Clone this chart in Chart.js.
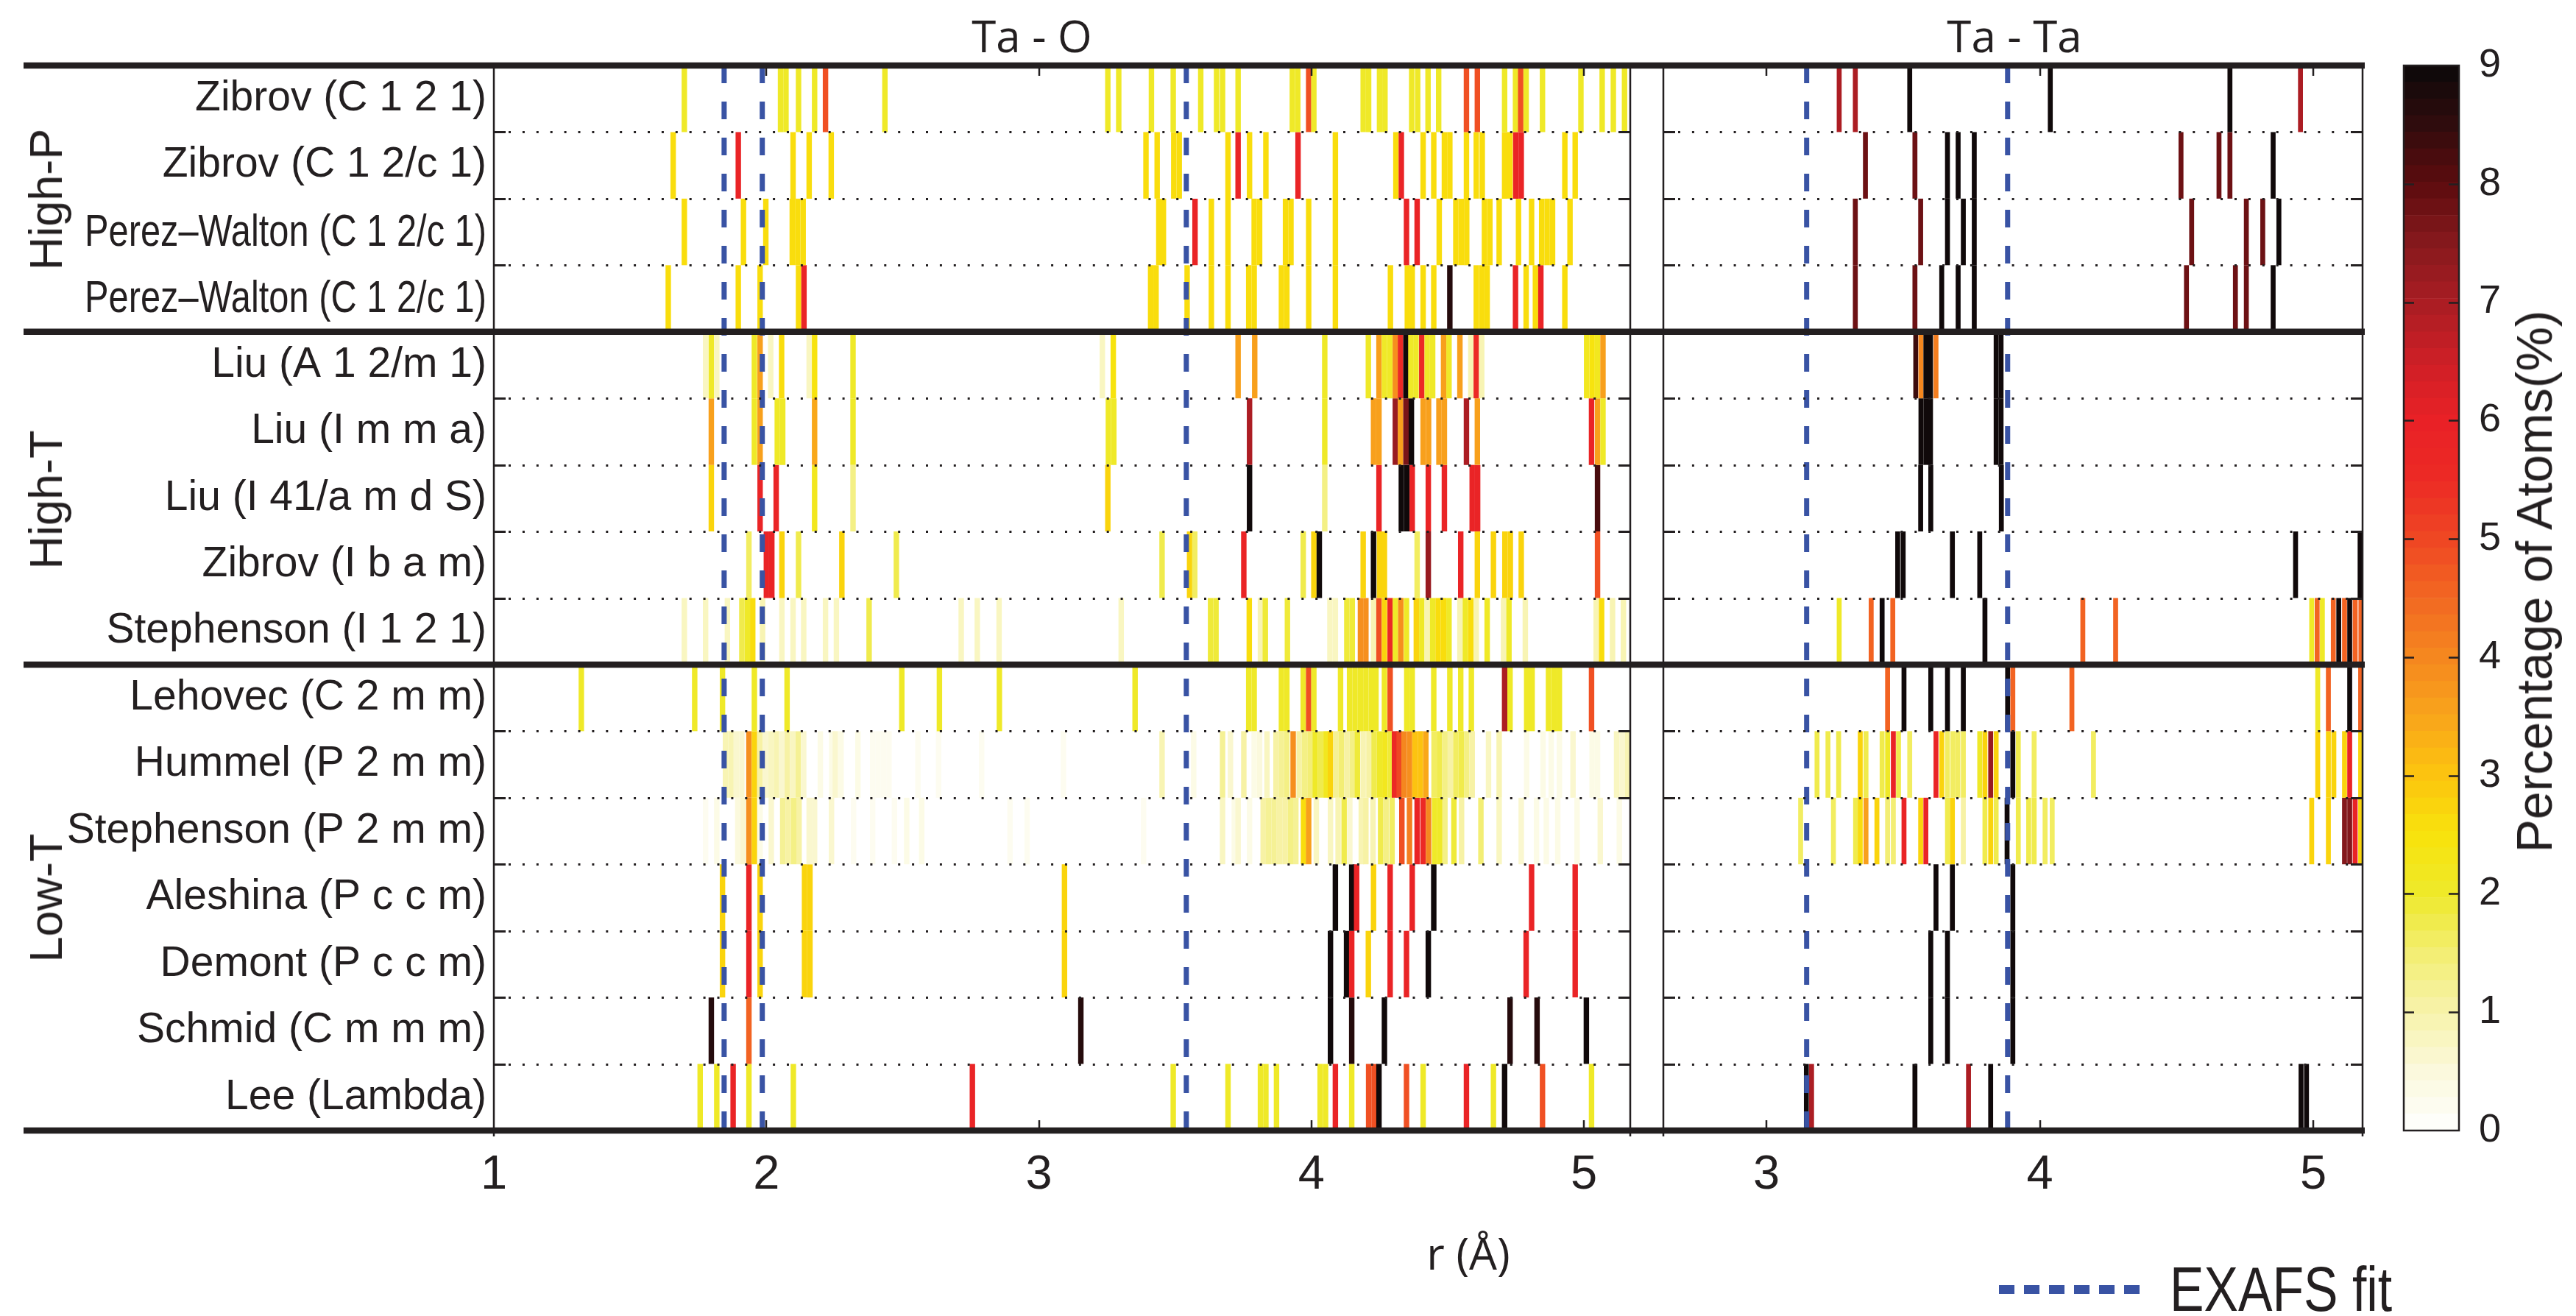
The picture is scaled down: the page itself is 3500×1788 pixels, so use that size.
<!DOCTYPE html>
<html>
<head>
<meta charset="utf-8">
<script src="https://cdn.jsdelivr.net/npm/chart.js@4.4.1/dist/chart.umd.min.js"></script>
<style>
  html, body { margin: 0; padding: 0; background: #fff; }
  #wrap { position: relative; width: 3500px; height: 1788px; overflow: hidden; background: #fff; }
  canvas { position: absolute; top: 0; }
  .lbl { position: absolute; white-space: nowrap; color: #231f20; line-height: 1; }
</style>
</head>
<body>
<div id="wrap">
  <canvas id="cTaO" width="2238" height="1788" style="left:0px"></canvas>
  <canvas id="cTaTa" width="1000" height="1788" style="left:2238px"></canvas>
  <canvas id="cBar" width="262" height="1788" style="left:3238px"></canvas>

  <div class="lbl" style="left:1402px;top:48px;transform:translate(-50%,-50%);font:60px 'Open Sans';">Ta - O</div>
  <div class="lbl" style="left:2737px;top:48px;transform:translate(-50%,-50%);font:60px 'Open Sans';">Ta - Ta</div>
  <div class="lbl" style="left:1995px;top:1702px;transform:translate(-50%,-50%);font:60px 'Open Sans';">r (Å)</div>

  <div class="lbl" style="left:62px;top:271px;transform:translate(-50%,-50%) rotate(-90deg);font:63px 'Liberation Sans';">High-P</div>
  <div class="lbl" style="left:62px;top:679px;transform:translate(-50%,-50%) rotate(-90deg);font:63px 'Liberation Sans';">High-T</div>
  <div class="lbl" style="left:62px;top:1220px;transform:translate(-50%,-50%) rotate(-90deg);font:63px 'Liberation Sans';">Low-T</div>

  <div class="lbl" style="left:3443px;top:790px;transform:translate(-50%,-50%) rotate(-90deg);font:68px 'Liberation Sans';">Percentage of Atoms(%)</div>

  <svg style="position:absolute;left:2716px;top:1740px" width="200" height="24">
    <line x1="0" y1="12" x2="191" y2="12" stroke="#3953a4" stroke-width="12" stroke-dasharray="21 13"/>
  </svg>
  <div class="lbl" style="left:2948px;top:1752px;transform-origin:0 50%;transform:translateY(-50%) scaleX(0.82);font:85px 'Liberation Sans';">EXAFS fit</div>
</div>

<script>
// ---- rows (top to bottom) ----
const rowLabels = [
  'Zibrov (C 1 2 1)', 'Zibrov (C 1 2/c 1)', 'Perez–Walton (C 1 2/c 1)', 'Perez–Walton (C 1 2/c 1)',
  'Liu (A 1 2/m 1)', 'Liu (I m m a)', 'Liu (I 41/a m d S)', 'Zibrov (I b a m)', 'Stephenson (I 1 2 1)',
  'Lehovec (C 2 m m)', 'Hummel (P 2 m m)', 'Stephenson (P 2 m m)', 'Aleshina (P c c m)',
  'Demont (P c c m)', 'Schmid (C m m m)', 'Lee (Lambda)'
];
const groupNames = ['High-P', 'High-T', 'Low-T'];
const groupSizes = [4, 5, 7];

// EXAFS fitted distances (Å)
const exafsTaO = [1.845, 1.985, 3.541];
const exafsTaTa = [3.147, 3.882];

// axis ticks
const ticksTaO = [1, 2, 3, 4, 5];
const ticksTaTa = [3, 4, 5];
const colorbarTicks = [0, 1, 2, 3, 4, 5, 6, 7, 8, 9];

// ---- Ta-O histograms: [r (Å), percentage of atoms] ----
const taO_ZibrovC121 = [[1.699,2.0],[2.052,2.1],[2.072,2.1],[2.118,2.0],[2.177,2.0],[2.217,4.8],[2.435,2.0],[3.253,2.0],[3.293,2.0],[3.413,2.0],[3.493,2.0],[3.594,2.0],[3.652,2.0],[3.674,2.0],[3.731,2.0],[3.930,2.0],[3.950,2.0],[3.990,4.8],[4.009,2.0],[4.190,2.0],[4.210,2.0],[4.250,2.0],[4.270,2.0],[4.368,2.0],[4.390,2.0],[4.428,2.0],[4.467,2.0],[4.569,4.8],[4.609,4.8],[4.709,2.0],[4.749,2.0],[4.768,4.8],[4.788,2.0],[4.848,2.0],[4.989,2.0],[5.067,2.0],[5.108,2.0],[5.149,2.0]];
const taO_ZibrovC12c1 = [[1.658,2.6],[1.897,5.8],[2.098,2.6],[2.157,2.6],[2.238,2.6],[3.393,2.6],[3.434,2.6],[3.495,2.6],[3.515,2.6],[3.694,2.6],[3.731,5.8],[3.773,2.6],[3.833,2.6],[3.951,5.8],[4.088,2.6],[4.310,2.6],[4.330,5.8],[4.410,2.6],[4.449,2.6],[4.488,2.6],[4.508,2.6],[4.569,2.6],[4.605,2.6],[4.627,2.6],[4.709,2.6],[4.729,2.6],[4.750,5.8],[4.770,5.8],[4.930,2.6],[4.968,2.6]];
const taO_PerezWaltonA = [[1.699,2.6],[1.916,2.6],[1.998,2.6],[2.095,2.6],[2.115,2.6],[2.135,2.6],[3.440,2.6],[3.457,2.6],[3.573,5.8],[3.633,2.6],[3.694,2.6],[3.790,2.6],[3.810,2.6],[3.905,2.6],[3.925,2.6],[3.990,2.6],[4.088,2.6],[4.349,5.8],[4.388,5.8],[4.469,2.6],[4.530,2.6],[4.550,2.6],[4.570,2.6],[4.635,2.6],[4.655,2.6],[4.689,2.6],[4.760,2.6],[4.808,2.6],[4.845,2.6],[4.865,2.6],[4.885,2.6],[4.949,2.6]];
const taO_PerezWaltonB = [[1.640,2.6],[1.897,2.6],[1.977,2.6],[2.118,2.6],[2.138,5.8],[3.410,2.6],[3.430,2.6],[3.544,2.6],[3.633,2.6],[3.694,2.6],[3.770,2.6],[3.790,2.6],[3.890,2.6],[3.910,2.6],[3.990,2.6],[4.088,2.6],[4.290,2.6],[4.352,2.6],[4.370,2.6],[4.410,2.6],[4.449,2.6],[4.508,8.6],[4.605,2.6],[4.625,2.6],[4.645,2.6],[4.749,5.8],[4.788,2.6],[4.822,2.6],[4.842,5.8],[4.930,2.6]];
const taO_LiuA12m1 = [[1.777,0.8],[1.798,2.0],[1.818,0.8],[1.956,2.0],[1.977,3.6],[2.016,0.8],[2.056,2.6],[2.157,0.8],[2.177,2.5],[2.318,2.0],[3.233,0.8],[3.273,2.4],[3.731,3.6],[3.792,3.6],[4.049,2.0],[4.209,2.0],[4.248,3.6],[4.268,2.0],[4.288,2.0],[4.308,3.8],[4.327,5.6],[4.347,9.0],[4.365,2.0],[4.384,2.0],[4.405,5.6],[4.425,2.0],[4.445,2.0],[4.485,3.6],[4.505,2.0],[4.545,3.6],[4.585,0.9],[4.605,5.6],[4.625,0.9],[5.010,2.2],[5.030,2.4],[5.050,2.2],[5.070,3.6]];
const taO_LiuImma = [[1.798,3.6],[1.956,2.0],[1.977,3.6],[2.040,2.0],[2.060,2.0],[2.177,3.4],[2.318,2.0],[3.255,2.0],[3.275,2.0],[3.773,7.0],[4.049,2.0],[4.228,3.6],[4.248,3.6],[4.308,7.2],[4.327,3.6],[4.347,7.6],[4.367,9.0],[4.410,3.6],[4.430,3.6],[4.468,3.6],[4.488,3.6],[4.569,7.0],[4.609,3.6],[5.028,5.8],[5.050,3.6],[5.070,2.0]];
const taO_LiuI41amdS = [[1.798,2.7],[1.977,5.8],[2.036,5.8],[2.177,2.2],[2.318,1.3],[3.253,2.7],[3.773,9.0],[4.049,1.3],[4.248,5.8],[4.330,9.0],[4.350,9.0],[4.370,5.8],[4.429,5.8],[4.488,5.8],[4.590,5.8],[4.610,5.8],[5.050,8.2]];
const taO_ZibrovIbam = [[1.936,1.6],[2.000,5.8],[2.020,5.8],[2.057,2.8],[2.118,1.8],[2.277,2.8],[2.477,1.8],[3.452,1.8],[3.553,2.8],[3.572,1.6],[3.752,5.8],[3.970,1.8],[4.009,2.8],[4.029,9.0],[4.190,2.8],[4.228,9.0],[4.250,2.8],[4.268,2.8],[4.388,1.6],[4.429,7.2],[4.548,5.8],[4.609,2.8],[4.668,2.8],[4.710,2.8],[4.730,2.8],[4.770,2.8],[5.050,4.8]];
const taO_StephensonI121 = [[1.699,0.8],[1.777,0.8],[1.857,0.8],[1.910,1.8],[1.930,2.0],[1.950,2.6],[1.986,0.9],[2.057,0.8],[2.098,0.8],[2.137,0.8],[2.217,0.8],[2.257,0.8],[2.377,1.8],[2.715,0.8],[2.774,0.8],[2.854,0.8],[3.302,0.8],[3.630,1.9],[3.650,1.9],[3.772,2.6],[3.813,0.9],[3.831,1.9],[3.912,1.9],[4.068,0.8],[4.088,0.8],[4.130,1.9],[4.150,1.9],[4.180,3.8],[4.200,3.8],[4.228,0.9],[4.248,4.8],[4.268,2.7],[4.289,5.6],[4.308,2.0],[4.328,3.8],[4.349,2.0],[4.385,2.7],[4.405,2.0],[4.425,0.9],[4.445,2.0],[4.465,2.6],[4.485,2.6],[4.505,2.0],[4.545,0.9],[4.565,2.0],[4.585,2.6],[4.605,0.9],[4.645,2.0],[4.705,0.9],[4.725,2.0],[4.785,0.9],[5.045,0.9],[5.065,2.6],[5.105,0.9],[5.145,0.9]];
const taO_LehovecC2mm = [[1.321,2.0],[1.737,2.0],[1.839,2.0],[1.956,2.0],[2.076,2.0],[2.497,2.0],[2.635,2.0],[2.855,2.0],[3.353,2.0],[3.770,2.0],[3.790,2.0],[3.890,2.0],[3.910,2.0],[3.970,2.0],[3.990,4.8],[4.009,2.0],[4.107,2.0],[4.140,2.0],[4.160,2.0],[4.180,2.0],[4.200,2.0],[4.220,2.0],[4.237,2.0],[4.268,2.0],[4.289,4.8],[4.350,2.0],[4.370,2.0],[4.449,2.0],[4.508,2.0],[4.548,2.0],[4.587,2.0],[4.709,7.0],[4.729,2.0],[4.790,2.0],[4.810,2.0],[4.870,2.0],[4.890,2.0],[4.910,2.0],[5.028,4.8]];
const taO_HummelP2mm = [[1.850,0.9],[1.870,0.9],[1.890,0.7],[1.910,0.6],[1.936,3.8],[1.956,2.7],[1.977,1.0],[1.997,0.6],[2.017,0.8],[2.037,0.9],[2.057,0.7],[2.077,1.0],[2.097,0.8],[2.117,1.2],[2.137,0.7],[2.198,0.3],[2.240,0.4],[2.253,0.6],[2.274,0.3],[2.336,0.4],[2.390,0.2],[2.410,0.2],[2.430,0.2],[2.450,0.2],[2.556,0.2],[2.632,0.2],[2.790,0.2],[3.090,0.2],[3.452,0.9],[3.568,0.3],[3.674,1.2],[3.703,0.6],[3.752,1.0],[3.790,0.4],[3.810,0.5],[3.837,0.8],[3.870,1.0],[3.890,1.2],[3.910,1.4],[3.933,3.8],[3.955,1.1],[3.975,1.3],[3.995,1.5],[4.014,2.0],[4.034,1.8],[4.054,2.2],[4.070,2.7],[4.090,1.2],[4.110,1.5],[4.130,1.0],[4.150,1.3],[4.169,1.9],[4.190,0.9],[4.211,1.0],[4.230,1.8],[4.250,2.0],[4.270,2.2],[4.290,1.9],[4.305,5.6],[4.322,5.0],[4.340,4.0],[4.360,3.8],[4.380,3.0],[4.400,3.0],[4.420,3.4],[4.450,1.6],[4.470,1.8],[4.490,1.3],[4.510,1.1],[4.530,1.6],[4.550,1.8],[4.570,1.4],[4.590,1.0],[4.650,0.8],[4.689,0.9],[4.790,0.3],[4.850,0.3],[4.880,0.3],[4.910,0.4],[4.960,0.7],[5.030,0.3],[5.050,0.3],[5.120,0.8],[5.140,0.7],[5.160,0.9]];
const taO_StephensonP2mm = [[1.777,0.2],[1.818,0.3],[1.895,0.5],[1.915,0.6],[1.936,3.8],[1.956,2.7],[1.977,0.3],[2.018,0.6],[2.060,1.2],[2.080,1.0],[2.100,1.3],[2.120,1.1],[2.157,0.7],[2.177,0.7],[2.239,0.6],[2.320,0.2],[2.390,0.2],[2.470,0.2],[2.515,0.3],[2.570,0.3],[2.894,0.2],[2.957,0.2],[3.384,0.2],[3.674,0.8],[3.717,0.4],[3.731,0.7],[3.773,0.4],[3.823,1.1],[3.843,1.2],[3.863,1.2],[3.883,1.1],[3.903,1.0],[3.923,1.3],[3.943,1.2],[3.971,2.6],[3.990,3.6],[4.018,0.8],[4.070,0.8],[4.098,0.9],[4.120,1.8],[4.141,0.7],[4.183,0.9],[4.200,1.0],[4.226,0.9],[4.254,1.7],[4.274,1.4],[4.296,1.6],[4.332,4.8],[4.360,4.2],[4.388,5.8],[4.410,5.6],[4.430,4.0],[4.452,2.0],[4.472,2.0],[4.490,1.3],[4.523,1.9],[4.551,1.0],[4.622,1.5],[4.689,0.8],[4.770,0.7],[4.826,0.3],[4.862,0.3],[4.904,0.3],[4.975,0.3],[5.060,0.6],[5.130,0.3]];
const taO_AleshinaPccm = [[1.839,2.8],[1.936,5.8],[1.977,2.8],[2.140,2.8],[2.160,2.8],[3.094,2.8],[4.088,9.0],[4.148,9.0],[4.166,5.8],[4.228,2.8],[4.289,5.8],[4.370,5.8],[4.449,9.0],[4.808,5.8],[4.968,5.8]];
const taO_DemontPccm = [[1.839,2.8],[1.936,5.8],[1.977,2.8],[2.140,2.8],[2.160,2.8],[3.094,2.8],[4.070,9.0],[4.129,9.0],[4.148,5.8],[4.209,2.8],[4.289,5.8],[4.349,5.8],[4.429,9.0],[4.788,5.8],[4.968,5.8]];
const taO_SchmidCmmm = [[1.798,8.7],[1.936,4.5],[3.154,8.7],[4.070,9.0],[4.148,8.7],[4.268,9.0],[4.729,8.7],[4.828,8.7],[5.009,9.0]];
const taO_LeeLambda = [[1.757,2.0],[1.818,2.0],[1.878,5.8],[1.936,2.0],[2.099,2.0],[2.756,5.8],[3.493,2.0],[3.694,2.0],[3.813,2.0],[3.833,2.0],[3.872,2.0],[4.032,2.0],[4.052,2.0],[4.088,5.8],[4.148,2.0],[4.210,4.8],[4.230,4.8],[4.248,9.0],[4.349,4.8],[4.410,2.0],[4.569,5.8],[4.668,2.0],[4.709,9.0],[4.848,4.8],[5.028,2.0]];

// ---- Ta-Ta histograms: [r (Å), percentage of atoms] ----
const taTa_ZibrovC121 = [[3.266,7.0],[3.325,7.0],[3.524,8.9],[4.038,8.9],[4.695,8.9],[4.953,7.0]];
const taTa_ZibrovC12c1 = [[3.362,7.8],[3.543,7.8],[3.662,8.9],[3.701,8.9],[3.760,8.9],[4.516,7.8],[4.655,7.8],[4.695,7.8],[4.853,8.9]];
const taTa_PerezWaltonA = [[3.325,7.8],[3.564,7.8],[3.662,8.9],[3.720,8.9],[3.760,8.9],[4.555,7.8],[4.755,7.8],[4.815,7.8],[4.874,8.9]];
const taTa_PerezWaltonB = [[3.325,7.8],[3.543,7.8],[3.641,8.9],[3.701,8.9],[3.760,8.9],[4.536,7.8],[4.715,7.8],[4.755,7.8],[4.853,8.9]];
const taTa_LiuA12m1 = [[3.546,8.4],[3.565,4.0],[3.583,9.0],[3.600,9.0],[3.620,4.2],[3.840,9.0],[3.858,9.0]];
const taTa_LiuImma = [[3.565,9.0],[3.583,9.0],[3.600,9.0],[3.840,9.0],[3.858,9.0]];
const taTa_LiuI41amdS = [[3.564,9.0],[3.601,9.0],[3.859,9.0]];
const taTa_ZibrovIbam = [[3.480,9.0],[3.500,9.0],[3.680,9.0],[3.780,9.0],[4.935,9.0],[5.171,9.0]];
const taTa_StephensonI121 = [[3.266,2.0],[3.383,4.6],[3.423,9.0],[3.462,4.6],[3.799,9.0],[4.157,4.6],[4.277,4.6],[4.994,2.0],[5.014,4.6],[5.033,2.0],[5.073,4.6],[5.093,9.0],[5.114,4.6],[5.133,9.0],[5.153,4.6],[5.174,4.6]];
const taTa_LehovecC2mm = [[3.443,4.6],[3.503,9.0],[3.601,9.0],[3.662,9.0],[3.720,9.0],[3.882,9.0],[3.901,4.6],[4.117,4.6],[5.016,2.0],[5.055,4.6],[5.133,9.0],[5.173,4.6]];
const taTa_HummelP2mm = [[3.185,1.8],[3.225,1.8],[3.264,1.8],[3.343,2.8],[3.364,1.8],[3.423,1.8],[3.443,2.0],[3.464,5.8],[3.483,1.8],[3.524,1.6],[3.620,5.8],[3.641,2.8],[3.662,1.6],[3.682,1.6],[3.700,1.6],[3.720,1.6],[3.780,2.0],[3.799,2.8],[3.820,7.2],[3.840,2.8],[3.901,9.0],[3.921,1.8],[3.979,1.6],[4.196,1.6],[5.016,2.8],[5.055,2.8],[5.075,2.8],[5.114,2.8],[5.133,5.8],[5.173,2.8]];
const taTa_StephensonP2mm = [[3.125,1.6],[3.245,1.6],[3.326,1.8],[3.343,2.6],[3.364,3.6],[3.404,2.8],[3.443,1.5],[3.464,1.5],[3.503,5.8],[3.564,2.8],[3.583,5.8],[3.662,1.8],[3.680,2.8],[3.720,1.0],[3.799,1.8],[3.820,2.8],[3.840,1.8],[3.880,9.0],[3.921,1.8],[3.959,1.8],[3.979,1.8],[4.019,1.6],[4.045,1.6],[4.994,2.8],[5.055,2.8],[5.114,7.5],[5.133,7.5],[5.153,5.8],[5.173,2.8]];
const taTa_AleshinaPccm = [[3.620,9.0],[3.680,9.0],[3.901,9.0]];
const taTa_DemontPccm = [[3.601,9.0],[3.662,9.0],[3.901,9.0]];
const taTa_SchmidCmmm = [[3.601,9.0],[3.662,9.0],[3.901,9.0]];
const taTa_LeeLambda = [[3.146,9.0],[3.165,7.0],[3.543,9.0],[3.739,7.0],[3.820,9.0],[4.955,9.0],[4.975,9.0]];

const taORows = [taO_ZibrovC121, taO_ZibrovC12c1, taO_PerezWaltonA, taO_PerezWaltonB, taO_LiuA12m1, taO_LiuImma, taO_LiuI41amdS, taO_ZibrovIbam, taO_StephensonI121, taO_LehovecC2mm, taO_HummelP2mm, taO_StephensonP2mm, taO_AleshinaPccm, taO_DemontPccm, taO_SchmidCmmm, taO_LeeLambda];
const taTaRows = [taTa_ZibrovC121, taTa_ZibrovC12c1, taTa_PerezWaltonA, taTa_PerezWaltonB, taTa_LiuA12m1, taTa_LiuImma, taTa_LiuI41amdS, taTa_ZibrovIbam, taTa_StephensonI121, taTa_LehovecC2mm, taTa_HummelP2mm, taTa_StephensonP2mm, taTa_AleshinaPccm, taTa_DemontPccm, taTa_SchmidCmmm, taTa_LeeLambda];

// ---- colour map (percentage -> colour), 64 discrete levels ----
const cmapStops = [[0,'#ffffff'],[0.5,'#fbf9dc'],[1,'#f7f3ab'],[1.5,'#f3ee72'],[2,'#eee92a'],[2.5,'#f8e30c'],[3,'#fcc40f'],[3.5,'#f9a51b'],[4,'#f5871f'],[4.5,'#f26822'],[5,'#ef4623'],[5.5,'#ec2a25'],[6,'#e92126'],[6.5,'#cd1f26'],[7,'#a91d23'],[7.5,'#86191d'],[8,'#5d0c0e'],[8.5,'#300c0d'],[9,'#0b0909']];
const CMAP_MAX = 9;
const CMAP_LEVELS = 64;

function hexRgb(h) { return [1, 3, 5].map(i => parseInt(h.slice(i, i + 2), 16)); }
function cmap(v) {
  v = Math.max(0, Math.min(CMAP_MAX, v));
  for (let i = 1; i < cmapStops.length; i++) {
    if (v <= cmapStops[i][0]) {
      const [v0, c0] = cmapStops[i - 1], [v1, c1] = cmapStops[i];
      const t = (v - v0) / (v1 - v0);
      const a = hexRgb(c0), b = hexRgb(c1);
      return 'rgb(' + a.map((x, k) => Math.round(x + (b[k] - x) * t)).join(',') + ')';
    }
  }
  return cmapStops[cmapStops.length - 1][1];
}
function levelColor(p) {
  const k = Math.min(CMAP_LEVELS - 1, Math.floor(p / CMAP_MAX * CMAP_LEVELS));
  return cmap((k + 0.5) * CMAP_MAX / CMAP_LEVELS);
}

// ---- shared drawing helpers ----
const INK = '#231f20';
const Y_MIN = -0.5, Y_MAX = rowLabels.length - 0.5;
const groupBreaks = groupSizes.slice(0, -1).map((_, i) => groupSizes.slice(0, i + 1).reduce((a, b) => a + b, 0));
// long labels are set in a horizontally compressed face
const condensedRow = rowLabels.map(l => l.length > 20);
const LABEL_FONT = "'Liberation Sans', Arial, sans-serif";

function rowHalfPx(chart) {
  const y = chart.scales.y;
  return Math.abs(y.getPixelForValue(1) - y.getPixelForValue(0)) / 2;
}
function binPx(chart, w) {
  const x = chart.scales.x;
  return Math.abs(x.getPixelForValue(x.min + w) - x.getPixelForValue(x.min));
}

function histogramDatasets(rows, binWidth) {
  return rows.map((bins, i) => ({
    type: 'scatter',
    label: rowLabels[i],
    data: bins.map(([r, p]) => ({ x: r, y: i })),
    pointStyle: 'line',
    pointRotation: 90,
    pointRadius: ctx => rowHalfPx(ctx.chart),
    pointBorderWidth: ctx => binPx(ctx.chart, binWidth),
    pointBorderColor: bins.map(([r, p]) => levelColor(p)),
    pointBackgroundColor: 'rgba(0,0,0,0)',
    clip: 0,
    order: 2
  }));
}
function exafsDatasets(values) {
  return values.map(v => ({
    type: 'line',
    label: 'EXAFS fit',
    data: [{ x: v, y: Y_MIN }, { x: v, y: Y_MAX }],
    borderColor: '#3953a4',
    borderWidth: 7,
    borderDash: [24, 25],
    pointRadius: 0,
    fill: false,
    tension: 0,
    clip: 0,
    order: 0
  }));
}

// frame: dotted row separators, thick group rules, inward ticks, axis lines
const framePlugin = {
  id: 'frame',
  afterDatasetsDraw(chart, args, o) {
    const { ctx, chartArea: a, scales: { x, y } } = chart;
    ctx.save();
    ctx.strokeStyle = INK;
    ctx.lineWidth = 3;
    ctx.setLineDash([3, 15.9]);
    for (let k = 1; k < rowLabels.length; k++) {
      if (groupBreaks.includes(k)) continue;
      const py = Math.round(y.getPixelForValue(k - 0.5)) + 0.5;
      ctx.beginPath(); ctx.moveTo(a.left + 20, py); ctx.lineTo(a.right - 12, py); ctx.stroke();
    }
    ctx.setLineDash([]);
    ctx.lineWidth = 3;
    for (let k = 1; k < rowLabels.length; k++) {
      const py = Math.round(y.getPixelForValue(k - 0.5)) + 0.5;
      ctx.beginPath();
      ctx.moveTo(a.left, py); ctx.lineTo(a.left + 16, py);
      ctx.moveTo(a.right - 16, py); ctx.lineTo(a.right, py);
      ctx.stroke();
    }
    ctx.lineWidth = 2.5;
    for (const t of o.xTicks) {
      const px = Math.round(x.getPixelForValue(t));
      if (px <= a.left + 2 || px >= a.right - 2) continue;
      ctx.beginPath();
      ctx.moveTo(px, a.top); ctx.lineTo(px, a.top + 14);
      ctx.moveTo(px, a.bottom - 14); ctx.lineTo(px, a.bottom);
      ctx.stroke();
    }
    ctx.lineWidth = 2.5;
    ctx.beginPath();
    ctx.moveTo(a.left, a.top); ctx.lineTo(a.left, a.bottom + 8);
    ctx.moveTo(a.right, a.top); ctx.lineTo(a.right, a.bottom + 8);
    ctx.stroke();
    ctx.lineWidth = 8.5;
    const rules = [Y_MIN, ...groupBreaks.map(b => b - 0.5), Y_MAX];
    const x0 = o.ruleLeft, x1 = o.ruleRight === 'area' ? a.right + 3 : chart.width;
    for (const v of rules) {
      const py = y.getPixelForValue(v);
      ctx.beginPath(); ctx.moveTo(x0, py); ctx.lineTo(x1, py); ctx.stroke();
    }
    ctx.restore();
  }
};

// row names that need a compressed setting are written here, right-aligned to the axis
const condensedLabels = {
  id: 'condensedLabels',
  afterDraw(chart, args, o) {
    const { ctx, chartArea: a, scales: { y } } = chart;
    ctx.save();
    ctx.fillStyle = INK;
    ctx.font = o.size + 'px ' + LABEL_FONT;
    ctx.textAlign = 'right';
    ctx.textBaseline = 'middle';
    rowLabels.forEach((label, i) => {
      if (!condensedRow[i]) return;
      ctx.save();
      ctx.translate(a.left - o.padding, y.getPixelForValue(i));
      ctx.scale(o.squeeze, 1);
      ctx.fillText(label, 0, 2);
      ctx.restore();
    });
    ctx.restore();
  }
};

Chart.defaults.font.family = LABEL_FONT;
Chart.defaults.color = INK;

const yScaleBase = {
  type: 'linear',
  min: Y_MIN,
  max: Y_MAX,
  reverse: true,
  afterBuildTicks: s => { s.ticks = rowLabels.map((_, i) => ({ value: i })); },
  grid: { display: false, drawTicks: false },
  border: { display: false }
};

function xScale(min, max, ticks) {
  return {
    type: 'linear',
    min, max,
    afterBuildTicks: s => { s.ticks = ticks.map(v => ({ value: v })); },
    afterFit: s => { s.height = 252; },
    grid: { display: false, drawTicks: false },
    border: { display: false },
    ticks: { autoSkip: false, maxRotation: 0, padding: 22, font: { size: 65 }, color: INK, callback: v => String(v) }
  };
}

const common = {
  responsive: false,
  animation: false,
  devicePixelRatio: 1,
  events: [],
  plugins: { legend: { display: false }, tooltip: { enabled: false } }
};

// ---- Ta-O panel ----
new Chart(document.getElementById('cTaO'), {
  type: 'scatter',
  data: { datasets: [...exafsDatasets(exafsTaO), ...histogramDatasets(taORows, 0.02)] },
  options: {
    ...common,
    layout: { padding: { left: 0, right: 23, top: 89, bottom: 0 } },
    scales: {
      x: xScale(1, 5.17, ticksTaO),
      y: {
        ...yScaleBase,
        afterFit: s => { s.width = 671; },
        ticks: {
          autoSkip: false,
          padding: 10,
          color: INK,
          font: { size: 57 },
          callback: v => condensedRow[v] ? '' : rowLabels[v]
        }
      }
    },
    plugins: {
      ...common.plugins,
      frame: { xTicks: ticksTaO, ruleLeft: 32, ruleRight: 'canvas' },
      condensedLabels: { size: 61, squeeze: 0.8, padding: 10 }
    }
  },
  plugins: [framePlugin, condensedLabels]
});

// ---- Ta-Ta panel ----
new Chart(document.getElementById('cTaTa'), {
  type: 'scatter',
  data: { datasets: [...exafsDatasets(exafsTaTa), ...histogramDatasets(taTaRows, 0.018)] },
  options: {
    ...common,
    layout: { padding: { left: 22, right: 28, top: 89, bottom: 0 } },
    scales: {
      x: xScale(2.623, 5.18, ticksTaTa),
      y: { ...yScaleBase, display: false }
    },
    plugins: { ...common.plugins, frame: { xTicks: ticksTaTa, ruleLeft: 0, ruleRight: 'area' } }
  },
  plugins: [framePlugin]
});

// ---- colour bar ----
const colorbarLevels = Array.from({ length: CMAP_LEVELS }, (_, k) => cmap((k + 0.5) * CMAP_MAX / CMAP_LEVELS));
const colorbarFrame = {
  id: 'cbFrame',
  afterDatasetsDraw(chart) {
    const { ctx, chartArea: a, scales: { y } } = chart;
    ctx.save();
    ctx.strokeStyle = INK;
    ctx.lineWidth = 2.5;
    ctx.strokeRect(a.left, a.top, a.right - a.left, a.bottom - a.top);
    for (const t of colorbarTicks) {
      if (t === 0 || t === CMAP_MAX) continue;
      const py = Math.round(y.getPixelForValue(t)) + 0.5;
      ctx.beginPath();
      ctx.moveTo(a.left, py); ctx.lineTo(a.left + 14, py);
      ctx.moveTo(a.right - 14, py); ctx.lineTo(a.right, py);
      ctx.stroke();
    }
    ctx.restore();
  }
};
new Chart(document.getElementById('cBar'), {
  type: 'bar',
  data: {
    labels: [''],
    datasets: colorbarLevels.map(c => ({
      data: [CMAP_MAX / CMAP_LEVELS], backgroundColor: c, borderWidth: 0,
      barPercentage: 1, categoryPercentage: 1
    }))
  },
  options: {
    ...common,
    layout: { padding: { left: 28, right: 0, top: 89, bottom: 252 } },
    scales: {
      x: { display: false, stacked: true },
      y: {
        position: 'right', stacked: true, min: 0, max: CMAP_MAX,
        afterBuildTicks: s => { s.ticks = colorbarTicks.map(v => ({ value: v })); },
        afterFit: s => { s.width = 159; },
        grid: { display: false, drawTicks: false },
        border: { display: false },
        ticks: { padding: 27, font: { size: 54 }, color: INK }
      }
    }
  },
  plugins: [colorbarFrame]
});
</script>
</body>
</html>
